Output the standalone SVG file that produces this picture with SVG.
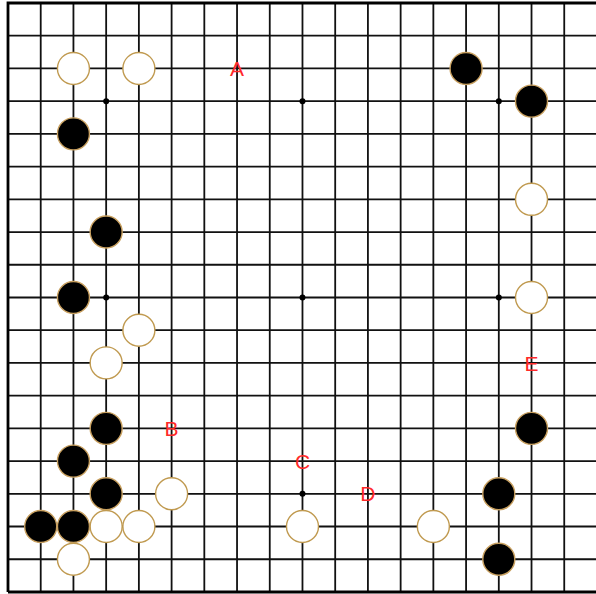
<svg xmlns="http://www.w3.org/2000/svg" width="596" height="594" viewBox="0 0 596 594">
<style>
.grid{stroke:#111;stroke-width:1.8;fill:none}
.border{stroke:#000;stroke-width:2.8;fill:none}
.star{fill:#000}
.w{fill:#fff;stroke:#c09a50;stroke-width:1.4}
.b{fill:#000;stroke:#c8a060;stroke-width:1.4}
.lbl{font-family:"Liberation Sans",Arial,sans-serif;font-size:21px;fill:#ff2a2a;text-anchor:middle}
</style>
<rect x="0" y="0" width="596" height="594" fill="#fff"/>
<g id="grid">
<path class="grid" d="M40.72 3V592M73.44 3V592M106.16 3V592M138.88 3V592M171.6 3V592M204.32 3V592M237.04 3V592M269.76 3V592M302.48 3V592M335.2 3V592M367.92 3V592M400.64 3V592M433.36 3V592M466.08 3V592M498.8 3V592M531.52 3V592M564.24 3V592
M8 35.72H597M8 68.44H597M8 101.16H597M8 133.88H597M8 166.6H597M8 199.32H597M8 232.04H597M8 264.76H597M8 297.48H597M8 330.2H597M8 362.92H597M8 395.64H597M8 428.36H597M8 461.08H597M8 493.8H597M8 526.52H597M8 559.24H597"/>
<path class="border" d="M8 592V3H597M8 592H597"/>
<circle class="star" cx="106.16" cy="101.16" r="3"/>
<circle class="star" cx="302.48" cy="101.16" r="3"/>
<circle class="star" cx="498.8" cy="101.16" r="3"/>
<circle class="star" cx="106.16" cy="297.48" r="3"/>
<circle class="star" cx="302.48" cy="297.48" r="3"/>
<circle class="star" cx="498.8" cy="297.48" r="3"/>
<circle class="star" cx="106.16" cy="493.8" r="3"/>
<circle class="star" cx="302.48" cy="493.8" r="3"/>
<circle class="star" cx="498.8" cy="493.8" r="3"/>
</g>
<g id="connectors"/>
<g id="stones">
<g id="w1"><circle class="w" cx="73.44" cy="68.44" r="16"/></g>
<g id="w2"><circle class="w" cx="138.88" cy="68.44" r="16"/></g>
<g id="b1"><circle class="b" cx="466.08" cy="68.44" r="16"/></g>
<g id="b2"><circle class="b" cx="531.52" cy="101.16" r="16"/></g>
<g id="b3"><circle class="b" cx="73.44" cy="133.88" r="16"/></g>
<g id="w3"><circle class="w" cx="531.52" cy="199.32" r="16"/></g>
<g id="b4"><circle class="b" cx="106.16" cy="232.04" r="16"/></g>
<g id="b5"><circle class="b" cx="73.44" cy="297.48" r="16"/></g>
<g id="w4"><circle class="w" cx="531.52" cy="297.48" r="16"/></g>
<g id="w5"><circle class="w" cx="138.88" cy="330.2" r="16"/></g>
<g id="w6"><circle class="w" cx="106.16" cy="362.92" r="16"/></g>
<g id="b6"><circle class="b" cx="106.16" cy="428.36" r="16"/></g>
<g id="b7"><circle class="b" cx="531.52" cy="428.36" r="16"/></g>
<g id="b8"><circle class="b" cx="73.44" cy="461.08" r="16"/></g>
<g id="b9"><circle class="b" cx="106.16" cy="493.8" r="16"/></g>
<g id="w7"><circle class="w" cx="171.6" cy="493.8" r="16"/></g>
<g id="b10"><circle class="b" cx="498.8" cy="493.8" r="16"/></g>
<g id="b11"><circle class="b" cx="40.72" cy="526.52" r="16"/></g>
<g id="b12"><circle class="b" cx="73.44" cy="526.52" r="16"/></g>
<g id="w8"><circle class="w" cx="106.16" cy="526.52" r="16"/></g>
<g id="w9"><circle class="w" cx="138.88" cy="526.52" r="16"/></g>
<g id="w10"><circle class="w" cx="302.48" cy="526.52" r="16"/></g>
<g id="w11"><circle class="w" cx="433.36" cy="526.52" r="16"/></g>
<g id="w12"><circle class="w" cx="73.44" cy="559.24" r="16"/></g>
<g id="b13"><circle class="b" cx="498.8" cy="559.24" r="16"/></g>
</g>
<g id="labels">
<g id="lA"><text class="lbl" x="237.04" y="76">A</text></g>
<g id="lB"><text class="lbl" x="171.6" y="436">B</text></g>
<g id="lC"><text class="lbl" x="302.48" y="468.6">C</text></g>
<g id="lD"><text class="lbl" x="367.92" y="501.4">D</text></g>
<g id="lE"><text class="lbl" x="531.52" y="370.5">E</text></g>
</g>
</svg>
